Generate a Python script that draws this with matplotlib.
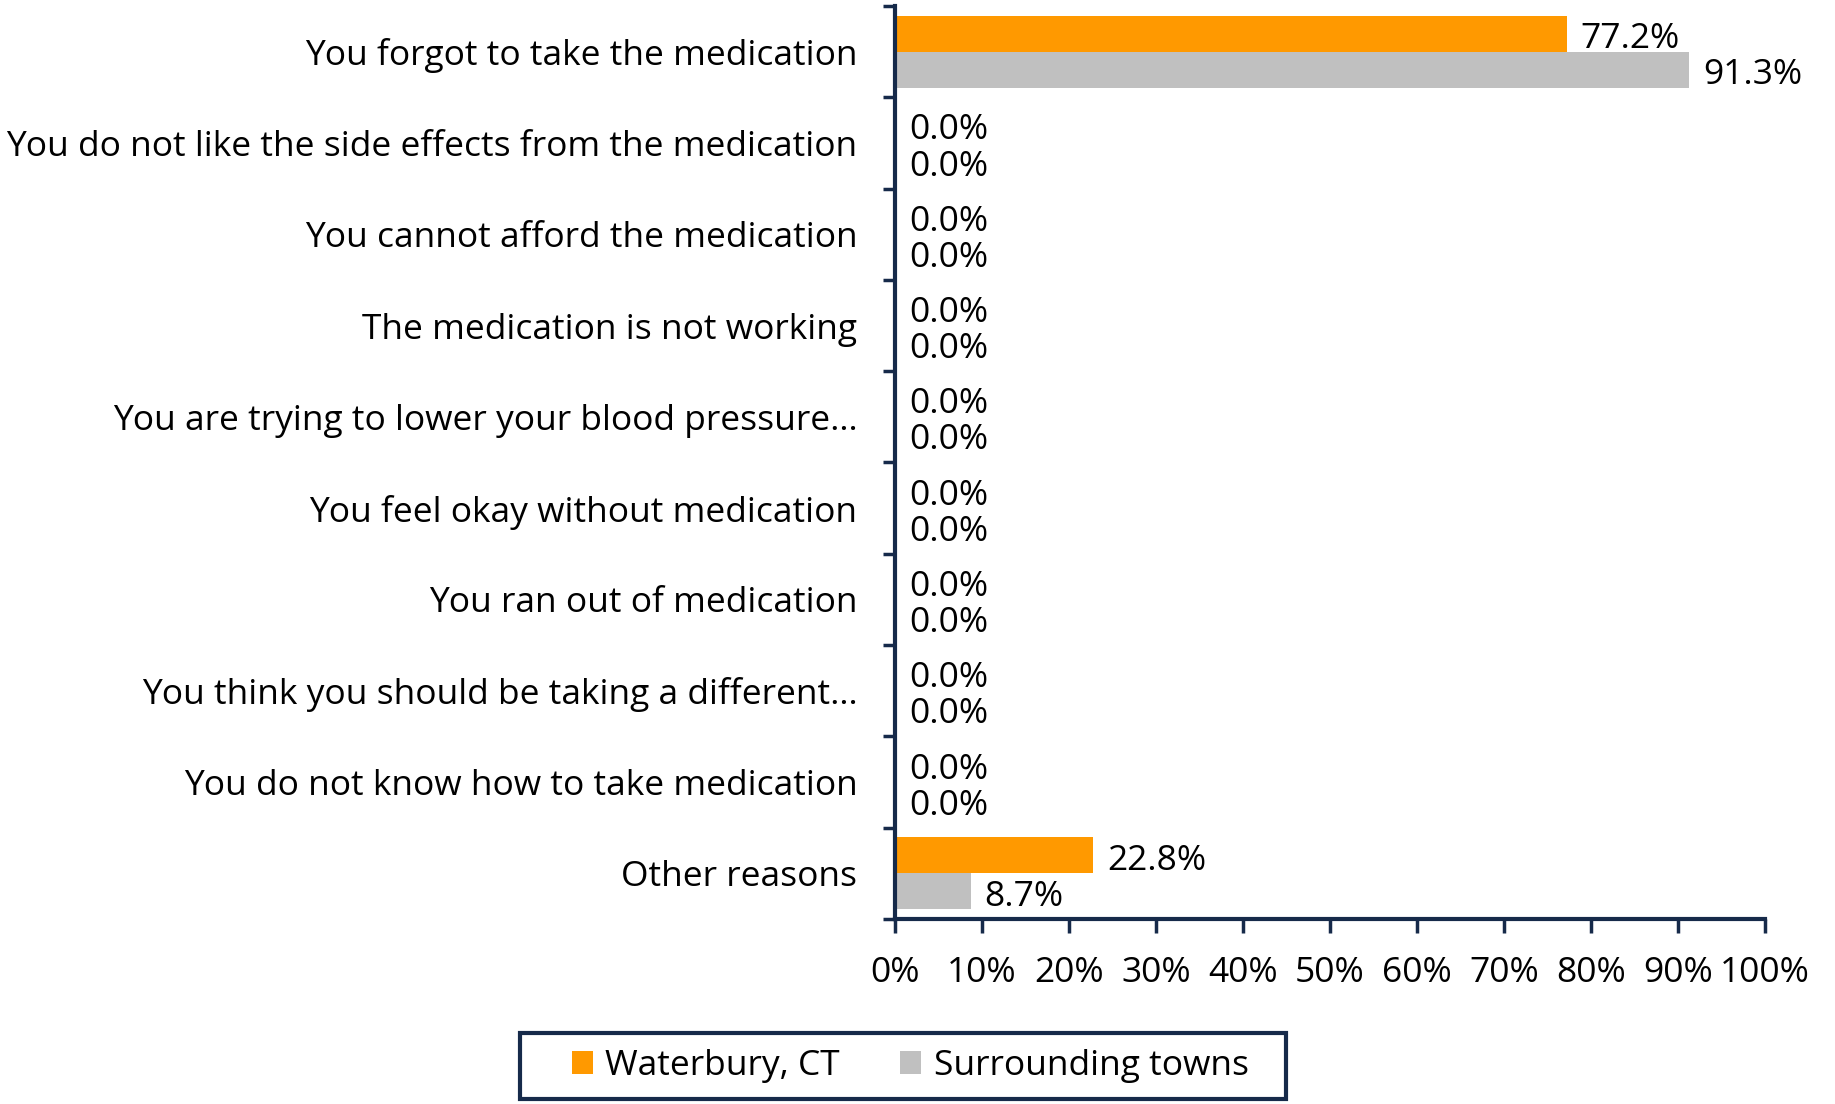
import matplotlib.pyplot as plt
from matplotlib.patches import Rectangle
import numpy as np

# Datos
categories = [
    "You forgot to take the medication",
    "You do not like the side effects from the medication",
    "You cannot afford the medication",
    "The medication is not working",
    "You are trying to lower your blood pressure\u2026",
    "You feel okay without medication",
    "You ran out of medication",
    "You think you should be taking a different\u2026",
    "You do not know how to take medication",
    "Other reasons",
]
waterbury = [77.2, 0.0, 0.0, 0.0, 0.0, 0.0, 0.0, 0.0, 0.0, 22.8]
surrounding = [91.3, 0.0, 0.0, 0.0, 0.0, 0.0, 0.0, 0.0, 0.0, 8.7]
x_ticks = [0, 10, 20, 30, 40, 50, 60, 70, 80, 90, 100]

NAVY = "#162A4A"
ORANGE = "#FF9900"
GRAY = "#C0C0C0"
FS = 25.5

plt.rcParams['font.family'] = ['Open Sans', 'DejaVu Sans']

fig = plt.figure(figsize=(18.35, 11.04), dpi=100)
ax = fig.add_axes([0.4877, 0.1676, 0.4742, 0.827])

y = np.arange(len(categories))
h = 0.395
b1 = ax.barh(y - h / 2, waterbury, height=h, color=ORANGE, label="Waterbury, CT")
b2 = ax.barh(y + h / 2, surrounding, height=h, color=GRAY, label="Surrounding towns")

# etiquetas de valor, un poco mas abajo del centro de la barra
for vals, off in ((waterbury, -h / 2), (surrounding, h / 2)):
    for yi, v in zip(y, vals):
        ax.annotate(f"{v:.1f}%", (v, yi + off), xytext=(10, -4),
                    textcoords='offset points', ha='left', va='center',
                    fontsize=FS)

ax.set_xlim(0, 100)
ax.set_ylim(len(categories) - 0.5, -0.5)
ax.set_xticks(x_ticks)
ax.set_xticklabels([f"{t}%" for t in x_ticks], fontsize=FS)

# etiquetas de categoria centradas, marcas entre categorias
ax.set_yticks(y)
ax.set_yticklabels(categories, fontsize=FS)
ax.tick_params(axis='y', which='major', length=0, pad=27)
ax.set_yticks(np.arange(len(categories) + 1) - 0.5, minor=True)
ax.tick_params(axis='y', which='minor', length=9, width=2.5, color=NAVY, direction='out')
ax.tick_params(axis='x', length=10, width=2.5, color=NAVY, direction='out', pad=17)

for side in ('top', 'right'):
    ax.spines[side].set_visible(False)
for side in ('left', 'bottom'):
    ax.spines[side].set_linewidth(3)
    ax.spines[side].set_color(NAVY)

leg = fig.legend(handles=[b1, b2], loc='center', bbox_to_anchor=(0.496, 0.0344),
                 ncol=2, fontsize=FS, frameon=False,
                 handlelength=0.6, handleheight=0.6, handletextpad=0.35,
                 columnspacing=1.7, borderpad=0.3, borderaxespad=0)

# marco del legend (mas ancho que el contenido, como en el original)
fig.patches.append(Rectangle((0.2834, 0.0045), 0.4174, 0.0600,
                             transform=fig.transFigure, fill=False,
                             edgecolor=NAVY, linewidth=3))

fig.savefig("out.png", dpi=100)
